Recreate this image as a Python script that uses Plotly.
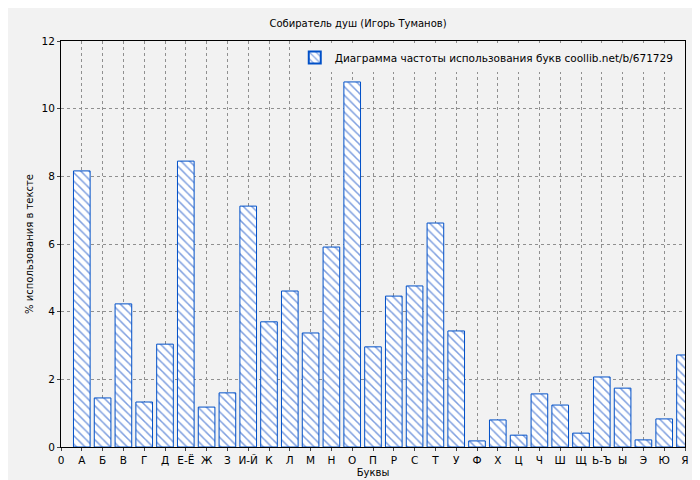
import plotly.graph_objects as go

letters = ["А", "Б", "В", "Г", "Д", "Е-Ё", "Ж", "З", "И-Й", "К", "Л", "М", "Н", "О", "П",
           "Р", "С", "Т", "У", "Ф", "Х", "Ц", "Ч", "Ш", "Щ", "Ь-Ъ", "Ы", "Э", "Ю", "Я"]
percent = [8.16, 1.45, 4.23, 1.33, 3.04, 8.45, 1.18, 1.6, 7.12, 3.7, 4.61, 3.37, 5.91, 10.79, 2.96,
           4.46, 4.76, 6.62, 3.43, 0.18, 0.8, 0.35, 1.57, 1.24, 0.41, 2.07, 1.74, 0.21, 0.83, 2.72]
positions = list(range(1, len(letters) + 1))

fig = go.Figure()
fig.add_trace(go.Bar(
    x=positions, y=percent, width=0.8,
    name="Диаграмма частоты использования букв coollib.net/b/671729",
    marker=dict(color="white", line=dict(color="#0050c8", width=1),
                pattern=dict(shape="\\", fgcolor="#0040c0", bgcolor="white", size=6, solidity=0.25)),
))

fig.update_layout(
    width=700, height=480,
    paper_bgcolor="#f2f2f2", plot_bgcolor="#f2f2f2",
    font=dict(family="DejaVu Sans", size=11, color="black"),
    title=dict(text="Собиратель душ (Игорь Туманов)", x=0.5, y=0.975, xanchor="center",
               font=dict(size=10)),
    margin=dict(l=53, r=23, t=33, b=41),
    showlegend=True,
    legend=dict(x=0.99, y=0.995, xanchor="right", yanchor="top", bgcolor="#f2f2f2",
                font=dict(size=10.5), itemsizing="constant"),
)
fig.update_xaxes(range=[0, 30], tickmode="array", tickvals=[0] + positions, ticktext=["0"] + letters,
                 showgrid=True, gridcolor="#909090", griddash="dot", showline=True, linecolor="black",
                 mirror=True, ticks="outside", ticklen=3, automargin=False, tickfont=dict(size=10.5),
                 title=dict(text="Буквы", font=dict(size=10), standoff=4))
fig.update_yaxes(range=[0, 12], dtick=2, showgrid=True, gridcolor="#909090", griddash="dot",
                 showline=True, linecolor="black", mirror=True, ticks="outside", ticklen=3,
                 zeroline=False, automargin=False, tickfont=dict(size=10.5),
                 title=dict(text="% использования в тексте", font=dict(size=10), standoff=6))

fig.write_html("out.html")
